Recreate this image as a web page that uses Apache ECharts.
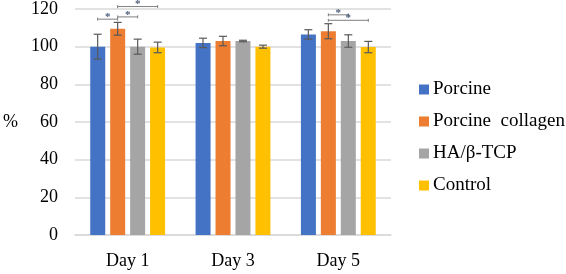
<!DOCTYPE html>
<html>
<head>
<meta charset="utf-8">
<script src="https://cdn.jsdelivr.net/npm/echarts@6/dist/echarts.min.js"></script>
<style>
html,body{margin:0;padding:0;background:#fff;}
#main{width:566px;height:274px;}
</style>
</head>
<body>
<div id="main"></div>
<script>
var days = ['Day 1', 'Day 3', 'Day 5'];
var groupNames = ['Porcine', 'Porcine  collagen', 'HA/\u03b2-TCP', 'Control'];
var porcine = [100, 102, 106.5];
var porcineErr = [6.6, 2.5, 2.5];
var porcineCollagen = [109.5, 103, 108.2];
var porcineCollagenErr = [3.4, 2.5, 4];
var haTcp = [100, 103, 103];
var haTcpErr = [4, 0.4, 3.3];
var control = [99.6, 100, 99.8];
var controlErr = [2.8, 0.8, 3];
var yTicks = [0, 20, 40, 60, 80, 100, 120];
// significance brackets: [day index, from group, to group, height]
var sigMarks = [
    [0, 0, 1, 114.6],
    [0, 1, 2, 115.8],
    [0, 1, 3, 121.3],
    [2, 1, 2, 116.9],
    [2, 1, 3, 114]
];

var colors = ['#4472C4', '#ED7D31', '#A5A5A5', '#FFC000'];
var values = [porcine, porcineCollagen, haTcp, control];
var errs = [porcineErr, porcineCollagenErr, haTcpErr, controlErr];
var barW = 15, step = 20;

var myChart = echarts.init(document.getElementById('main'));
var series = [];
for (var i = 0; i < 4; i++) {
    series.push({
        name: groupNames[i],
        type: 'bar',
        barWidth: barW,
        barGap: '33%',
        itemStyle: {color: colors[i]},
        data: values[i]
    });
}
for (var j = 0; j < 4; j++) {
    (function(k){
        var errData = [];
        for (var d = 0; d < days.length; d++) {
            errData.push([d, values[k][d] - errs[k][d], values[k][d] + errs[k][d]]);
        }
        series.push({
            type: 'custom',
            silent: true,
            z: 5,
            data: errData,
            renderItem: function(params, api){
                var lo = api.coord([api.value(0), api.value(1)]);
                var hi = api.coord([api.value(0), api.value(2)]);
                var off = (k - 1.5) * step;
                var x = lo[0] + off;
                var st = {stroke: '#595959', lineWidth: 1.2};
                return {
                    type: 'group',
                    children: [
                        {type: 'line', shape: {x1: x, y1: lo[1], x2: x, y2: hi[1]}, style: st},
                        {type: 'line', shape: {x1: x - 4, y1: lo[1], x2: x + 4, y2: lo[1]}, style: st},
                        {type: 'line', shape: {x1: x - 4, y1: hi[1], x2: x + 4, y2: hi[1]}, style: st}
                    ]
                };
            }
        });
    })(j);
}
series.push({
    type: 'custom',
    silent: true,
    clip: false,
    z: 6,
    data: sigMarks,
    renderItem: function(params, api){
        var p = api.coord([api.value(0), api.value(3)]);
        var x1 = p[0] + (api.value(1) - 1.5) * step;
        var x2 = p[0] + (api.value(2) - 1.5) * step;
        var st = {stroke: '#7f7f7f', lineWidth: 1};
        return {
            type: 'group',
            children: [
                {type: 'line', shape: {x1: x1, y1: p[1], x2: x2, y2: p[1]}, style: st},
                {type: 'line', shape: {x1: x1, y1: p[1] - 1.5, x2: x1, y2: p[1] + 1.5}, style: st},
                {type: 'line', shape: {x1: x2, y1: p[1] - 1.5, x2: x2, y2: p[1] + 1.5}, style: st},
                {type: 'text', style: {text: '*', x: (x1 + x2) / 2, y: p[1] - 2, align: 'center', verticalAlign: 'middle',
                    fill: '#4a5a7a', font: 'bold 11px "Liberation Serif"'}}
            ]
        };
    }
});

var option = {
    animation: false,
    color: colors,
    textStyle: {fontFamily: '"Liberation Serif", serif'},
    grid: {left: 69, right: 175, top: 9, bottom: 39},
    legend: {
        data: groupNames,
        orient: 'vertical',
        left: 414,
        top: 75,
        itemWidth: 10,
        itemHeight: 10,
        itemGap: 13,
        icon: 'rect',
        textStyle: {fontSize: 19, color: '#000', fontFamily: '"Liberation Serif", serif', padding: [0, 0, 0, -1]}
    },
    xAxis: {
        type: 'category',
        data: days,
        axisLine: {lineStyle: {color: '#d9d9d9', width: 1.5}},
        axisTick: {show: false},
        axisLabel: {fontSize: 18, color: '#000', margin: 17, fontFamily: '"Liberation Serif", serif'}
    },
    yAxis: {
        type: 'value',
        min: yTicks[0],
        max: yTicks[yTicks.length - 1],
        interval: 20,
        name: '%',
        nameLocation: 'middle',
        nameRotate: 0,
        nameGap: 57,
        nameTextStyle: {fontSize: 18, color: '#000', fontFamily: '"Liberation Serif", serif'},
        axisLine: {show: false},
        axisTick: {show: false},
        axisLabel: {fontSize: 18, color: '#000', margin: 17, fontFamily: '"Liberation Serif", serif'},
        splitLine: {lineStyle: {color: '#d9d9d9', width: 1.5}}
    },
    series: series
};
myChart.setOption(option);
</script>
</body>
</html>
